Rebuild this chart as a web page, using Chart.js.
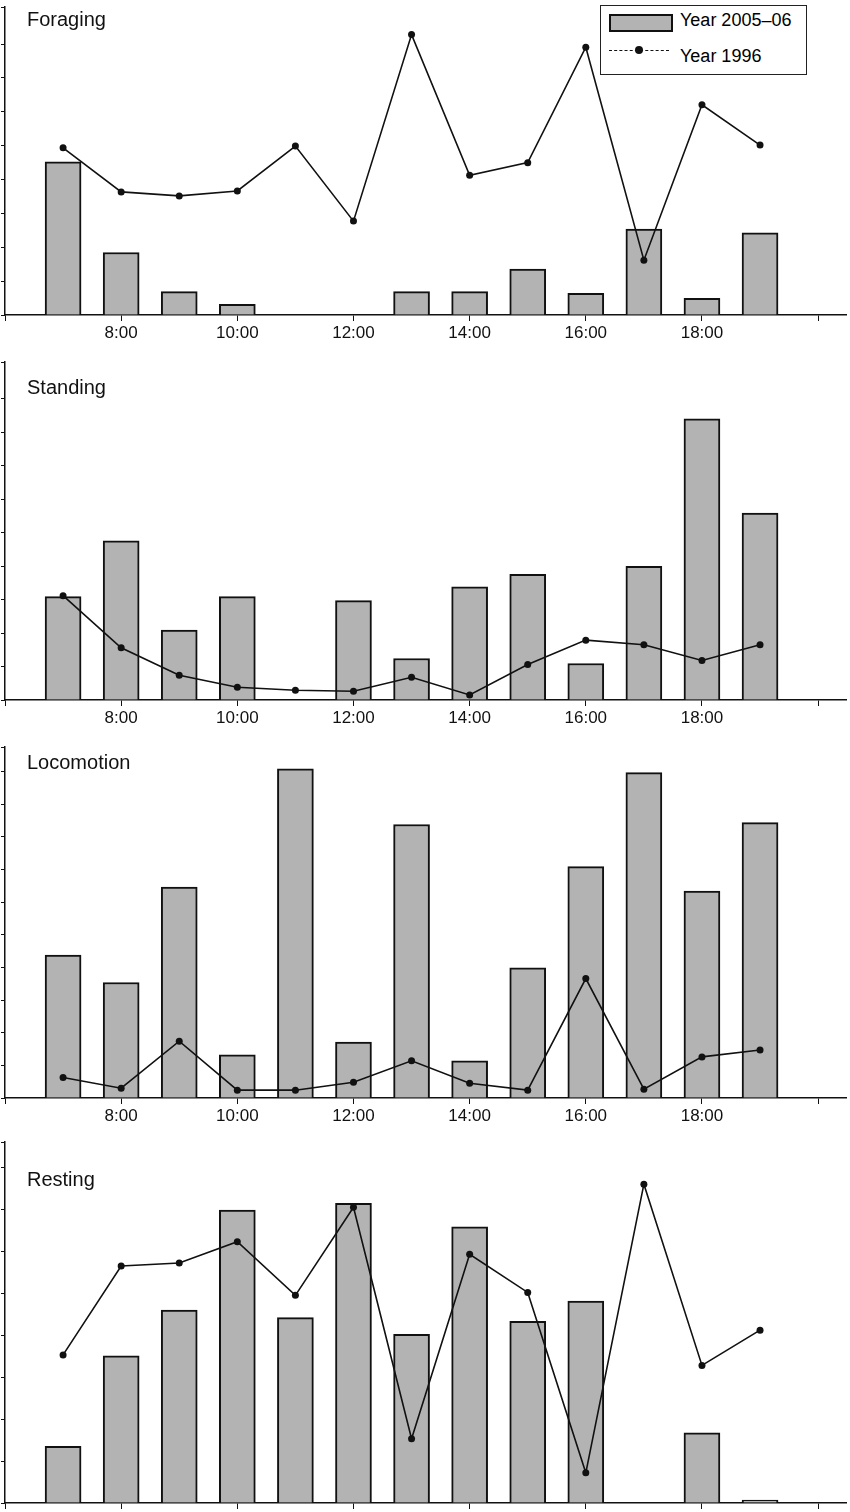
<!DOCTYPE html>
<html><head><meta charset="utf-8">
<script src="https://cdn.jsdelivr.net/npm/chart.js@4"></script>
<style>
body{margin:0;background:#fff;width:850px;height:1512px;position:relative;overflow:hidden;font-family:"Liberation Sans",Arial,sans-serif}
canvas{position:absolute;left:0}
.ttl{position:absolute;left:27px;font-size:20px;color:#111}
#leg{position:absolute;left:600px;top:5px;width:205px;height:68px;border:1.5px solid #222;background:#fff;font-size:18px}
</style></head><body>
<canvas id="c1" style="top:0"></canvas>
<canvas id="c2" style="top:355px"></canvas>
<canvas id="c3" style="top:740px"></canvas>
<canvas id="c4" style="top:1135px"></canvas>
<div class="ttl" style="top:8px">Foraging</div>
<div class="ttl" style="top:376px">Standing</div>
<div class="ttl" style="top:751px">Locomotion</div>
<div class="ttl" style="top:1168px">Resting</div>
<div id="leg">
  <div style="position:absolute;left:8px;top:8px;width:60px;height:14px;background:#b3b3b3;border:2px solid #111"></div>
  <div style="position:absolute;left:79px;top:4px">Year 2005–06</div>
  <div style="position:absolute;left:8px;top:44px;width:60px;border-top:1.5px dashed #111"></div>
  <div style="position:absolute;left:34px;top:40px;width:8px;height:8px;border-radius:50%;background:#111"></div>
  <div style="position:absolute;left:79px;top:40px">Year 1996</div>
</div>
<script>
const hours = [7, 8, 9, 10, 11, 12, 13, 14, 15, 16, 17, 18, 19];

const foragingBars = [49.8, 20.3, 7.6, 3.5, 0, 0, 7.6, 7.6, 14.9, 7.0, 27.9, 5.4, 26.7];
const foragingLine = [54.3, 40, 38.7, 40.3, 54.9, 30.5, 91.1, 45.4, 49.5, 87, 17.8, 68.3, 55.2];
const standingBars = [3.09, 4.76, 2.09, 3.09, 0, 2.97, 1.24, 3.38, 3.76, 1.09, 4.0, 8.41, 5.59];
const standingLine = [3.12, 1.56, 0.74, 0.38, 0.29, 0.26, 0.68, 0.15, 1.06, 1.79, 1.65, 1.18, 1.65];
const locoBars = [4.38, 3.54, 6.46, 1.32, 10.09, 1.71, 8.38, 1.14, 3.99, 7.09, 9.97, 6.34, 8.44];
const locoLine = [0.63, 0.30, 1.74, 0.24, 0.24, 0.48, 1.14, 0.45, 0.24, 3.66, 0.27, 1.26, 1.47];
const restingBars = [1.35, 3.51, 4.6, 6.98, 4.42, 7.14, 4.02, 6.58, 4.33, 4.81, 0, 1.67, 0.07];
const restingLine = [3.53, 5.65, 5.72, 6.23, 4.95, 7.05, 1.53, 5.93, 5.02, 0.72, 7.6, 3.28, 4.12];

function makeChart(id, h, bars, line, ymax, step, labels, xh) {
    var ctx = document.getElementById(id);
    ctx.width = 850; ctx.height = h;
    ctx.style.width = '850px'; ctx.style.height = h + 'px';
    return new Chart(ctx, {
        data: {
            datasets: [{
                type: 'line',
                data: hours.map((x, i) => ({ x: x, y: line[i] })),
                borderColor: '#111',
                borderWidth: 1.6,
                pointRadius: 3.5,
                pointBackgroundColor: '#111',
                pointBorderWidth: 0,
                tension: 0
            }, {
                type: 'bar',
                data: hours.map((x, i) => ({ x: x, y: bars[i] })),
                backgroundColor: '#b3b3b3',
                borderColor: '#111',
                borderWidth: { top: 2, left: 2, right: 2, bottom: 0 },
                barThickness: 36
            }]
        },
        options: {
            responsive: false,
            animation: false,
            layout: { padding: { left: 2, top: 0, right: 0, bottom: 0 } },
            plugins: { legend: { display: false }, tooltip: { enabled: false } },
            scales: {
                x: {
                    type: 'linear', min: 6, max: 20.48, offset: false,
                    afterBuildTicks: s => { s.ticks = [6, 8, 10, 12, 14, 16, 18, 20].map(v => ({ value: v })); },
                    afterFit: s => { s.height = xh; },
                    border: { color: '#111', width: 1.5 },
                    grid: { drawOnChartArea: false, color: '#111', tickLength: 6, offset: false },
                    ticks: {
                        display: labels, color: '#111', font: { size: 17, family: 'Liberation Sans' }, padding: 2,
                        autoSkip: false, maxRotation: 0,
                        callback: v => (v >= 8 && v <= 18) ? v + ':00' : ''
                    }
                },
                y: {
                    min: 0, max: ymax,
                    afterFit: s => { s.width = 3; },
                    border: { color: '#111', width: 1.5 },
                    grid: { drawOnChartArea: false, color: '#111', tickLength: 4 },
                    ticks: { stepSize: step, callback: () => '', padding: 0 }
                }
            }
        }
    });
}

makeChart('c1', 345, foragingBars, foragingLine, 100, 5.5, true, 30);
makeChart('c2', 375, standingBars, standingLine, 10.1, 1, true, 30);
makeChart('c3', 388, locoBars, locoLine, 10.75, 1, true, 30);
makeChart('c4', 377, restingBars, restingLine, 8.6, 1, false, 9);
</script>
</body></html>
